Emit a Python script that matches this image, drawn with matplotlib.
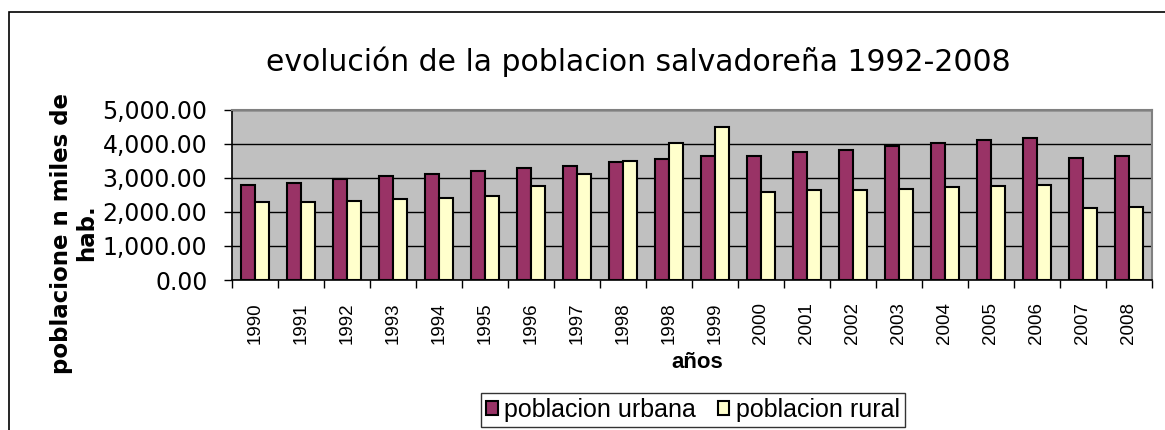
import matplotlib
matplotlib.use("Agg")
import matplotlib.pyplot as plt
from matplotlib.patches import Rectangle
from matplotlib.ticker import FuncFormatter, MultipleLocator
import numpy as np

# poblacion en miles de habitantes
anios = ["1990", "1991", "1992", "1993", "1994", "1995", "1996", "1997", "1998",
         "1998", "1999", "2000", "2001", "2002", "2003", "2004", "2005", "2006",
         "2007", "2008"]
urbana = [2800, 2860, 2960, 3050, 3130, 3220, 3280, 3350, 3480, 3550,
          3660, 3660, 3750, 3810, 3940, 4020, 4120, 4190, 3590, 3660]
rural = [2300, 2300, 2330, 2380, 2420, 2460, 2750, 3130, 3510, 4020,
         4490, 2600, 2650, 2650, 2690, 2730, 2760, 2790, 2120, 2150]

W, H = 1165, 430
fig = plt.figure(figsize=(W / 100, H / 100), dpi=100)

# marco del area del grafico (se sale por la derecha y por abajo)
fig.patches.append(Rectangle((9 / W, -0.1), 2.0, 1 - 12 / H + 0.1,
                             transform=fig.transFigure, fill=False,
                             edgecolor="black", linewidth=1.2))

ax = fig.add_axes([231.7 / W, 1 - 280 / H, (1152 - 231.7) / W, 170 / H])
ax.set_facecolor("#C0C0C0")

x = np.arange(len(anios))
ancho = 0.3
ax.bar(x - ancho / 2, urbana, ancho, color="#993366", edgecolor="black",
       linewidth=1.5, label="poblacion urbana", zorder=3)
ax.bar(x + ancho / 2, rural, ancho, color="#FFFFCC", edgecolor="black",
       linewidth=1.5, label="poblacion rural", zorder=3)

ax.set_xlim(-0.5, len(anios) - 0.5)
ax.set_ylim(0, 5000)
ax.yaxis.set_major_locator(MultipleLocator(1000))
ax.yaxis.set_major_formatter(FuncFormatter(lambda v, p: "{:,.2f}".format(v)))
ax.grid(axis="y", color="black", linewidth=1.0, zorder=1)
ax.set_axisbelow(True)

# etiquetas en el centro, marcas entre categorias
ax.set_xticks(x)
ax.set_xticklabels(anios)
ax.set_xticks(np.arange(len(anios) + 1) - 0.5, minor=True)
ax.tick_params(axis="x", which="major", length=0, pad=16, labelsize=13.5,
               labelrotation=90)
ax.tick_params(axis="x", which="minor", length=5.8, width=1, color="black")
ax.tick_params(axis="y", length=5.5, width=1, pad=12, labelsize=17)
for lab in ax.get_xticklabels():
    lab.set_fontfamily("Liberation Sans")
for lab in ax.get_yticklabels():
    lab.set_fontfamily("DejaVu Sans")

for s in ["top", "right"]:
    ax.spines[s].set_color("#808080")
    ax.spines[s].set_linewidth(1.5)
for s in ["left", "bottom"]:
    ax.spines[s].set_color("black")
    ax.spines[s].set_linewidth(1.2)

fig.text(638 / W, 1 - 62 / H, "evolución de la poblacion salvadoreña 1992-2008",
         ha="center", va="center", fontsize=21.5, family="DejaVu Sans")

fig.text(74 / W, 1 - 233 / H, "poblacione n miles de\nhab.", rotation=90,
         ha="center", va="center", fontsize=16.5, fontweight="bold",
         family="DejaVu Sans", linespacing=1.15)

fig.text(697 / W, 1 - 362 / H, "años", ha="center", va="center",
         fontsize=16, fontweight="bold", family="Liberation Sans")

leg = fig.legend(loc="center", bbox_to_anchor=(693 / W, 1 - 410 / H), ncol=2,
                 frameon=True, fancybox=False, edgecolor="black",
                 handlelength=0.45, handleheight=0.45, handletextpad=0.25,
                 columnspacing=0.9, borderpad=0.2,
                 prop={"family": "Liberation Sans", "size": 18})
leg.get_frame().set_linewidth(1.0)

fig.savefig("out.png", dpi=100)
